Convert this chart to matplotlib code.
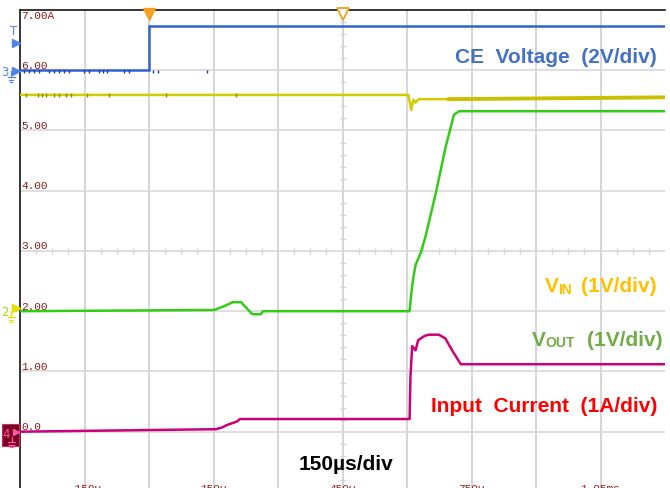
import matplotlib
matplotlib.use("Agg")
import matplotlib.pyplot as plt
from matplotlib.transforms import Affine2D, ScaledTranslation, blended_transform_factory
from matplotlib.lines import Line2D
from matplotlib.patches import Rectangle

# ---------------- data (time in µs, amplitude in screen divisions) ----------------
ce_t = [-300, 0, 0, 1200]
ce_v = [6.0, 6.0, 6.73, 6.73]

vin_t = [-300, 603, 607, 610, 613, 615, 618, 620, 624, 628, 698, 1200]
vin_v = [5.59, 5.59, 5.45, 5.34, 5.45, 5.51, 5.48, 5.46, 5.50, 5.52, 5.52, 5.55]

vout_t = [-300, 151, 170, 186, 195, 214, 240, 260, 265, 606, 610, 615, 620, 632,
          643, 667, 690, 702, 709, 721, 1200]
vout_v = [2.0, 2.02, 2.07, 2.12, 2.15, 2.15, 1.95, 1.95, 2.0, 2.0, 2.30, 2.57, 2.77,
          2.97, 3.24, 3.96, 4.73, 5.06, 5.26, 5.32, 5.32]

iin_t = [-300, 143, 155, 170, 181, 193, 205, 211, 606, 608, 612, 620, 626, 641, 651,
         674, 689, 705, 725, 1200]
iin_v = [0.0, 0.04, 0.04, 0.07, 0.11, 0.14, 0.17, 0.21, 0.21, 0.9, 1.42, 1.35, 1.52,
         1.59, 1.61, 1.61, 1.55, 1.35, 1.12, 1.12]

ce_glitch_t = [-291, -279, -267, -256, -233, -221, -209, -198, -186, -151, -140,
               -116, -107, -98, -58, -47, 10, 20, 134]
vin_glitch_t = [-286, -258, -249, -240, -221, -209, -193, -181, -144, -93, 40, 202]

y_labels = ["7.00A", "6.00", "5.00", "4.00", "3.00", "2.00", "1.00", "0.0"]
y_label_vals = [7, 6, 5, 4, 3, 2, 1, 0]
x_labels = ["-150\u00b5", "150\u00b5", "450\u00b5", "750\u00b5", "1.05ms"]
x_label_vals = [-150, 150, 450, 750, 1050]

# ---------------- figure ----------------
W, H = 670, 488
fig = plt.figure(figsize=(W / 100, H / 100), dpi=100)
fig.patch.set_facecolor("white")
P = Affine2D().scale(1 / W, -1 / H).translate(0, 1) + fig.transFigure

PXDIV = 60.24
ax = fig.add_axes([20 / W, 0, 645 / W, 478 / H])
ax.set_xlim(-300, 1200)
ax.set_ylim(7 - 478 / PXDIV, 7)
ax.set_xticks([])
ax.set_yticks([])
for s in ("bottom", "right"):
    ax.spines[s].set_visible(False)
for s in ("left", "top"):
    ax.spines[s].set_color("black")
    ax.spines[s].set_linewidth(1.1)

grid_c = "#d6d6d6"
for v in range(0, 7):
    ax.axhline(v, color=grid_c, lw=1.1, zorder=0)
for t in range(-150, 1200, 150):
    ax.axvline(t, color=grid_c, lw=1.4, zorder=0)

# center-line minor ticks
hx = [-300 + 37.5 * k for k in range(41) if (k % 4) != 0]
ax.plot(hx, [3] * len(hx), ls="none", marker="|", ms=5, mew=1.0, color=grid_c, zorder=0)
vy = [-1 + 0.2 * k for k in range(41) if (k % 5) != 0]
ax.plot([450] * len(vy), vy, ls="none", marker="_", ms=5, mew=1.0, color=grid_c, zorder=0)

# ---------------- traces ----------------
blue = "#3263d3"
yellow = "#d4cc00"
green = "#33cc14"
magenta = "#cc0078"

ax.plot(ce_t, ce_v, color=blue, lw=1.8, zorder=3, solid_joinstyle="miter")
ax.vlines(ce_glitch_t, [5.955] * len(ce_glitch_t), [6.0] * len(ce_glitch_t),
          color="#1d3c96", lw=1.0, zorder=3)

ax.plot(vin_t, vin_v, color=yellow, lw=1.8, zorder=3)
ax.plot(vin_t[-2:], vin_v[-2:], color="#c8c000", lw=2.8, zorder=3)
ax.vlines(vin_glitch_t, [5.56] * len(vin_glitch_t), [5.63] * len(vin_glitch_t),
          color="#8c8a00", lw=1.0, zorder=3)

ax.plot(vout_t, vout_v, color=green, lw=1.8, zorder=4)
ax.plot(iin_t, iin_v, color=magenta, lw=1.8, zorder=4)

# ---------------- trigger markers on top ----------------
off_down = ScaledTranslation(0, -3.5 / 100, fig.dpi_scale_trans)
ax.plot([0], [7], marker="v", ms=8, color="#f5a020", mec="#f5a020",
        transform=ax.transData + off_down, clip_on=False, zorder=6)
ax.plot([450], [7], marker="v", ms=8, mfc="white", mec="#f5a020", mew=1.3,
        transform=ax.transData + off_down, clip_on=False, zorder=6)

# ---------------- axis labels (scope style) ----------------
lab_c = "#8b1c1c"
mono = "Liberation Mono"
off_lab = ScaledTranslation(1.5 / 100, 1.5 / 100, fig.dpi_scale_trans)
off_top = ScaledTranslation(1.5 / 100, -9.3 / 100, fig.dpi_scale_trans)
for s, v in zip(y_labels, y_label_vals):
    tr = ax.transData + (off_top if v == 7 else off_lab)
    ax.text(-300, v, s, fontsize=8, family=mono, color=lab_c, ha="left",
            va="baseline", transform=tr, zorder=5)

bt = blended_transform_factory(ax.transData, P)
for s, t in zip(x_labels, x_label_vals):
    ax.text(t, 483.5, s, fontsize=8, family=mono, color=lab_c, ha="center",
            va="top", transform=bt, clip_on=False)

# ---------------- channel markers on the left ----------------
def ground(x, y, c):
    fig.add_artist(Line2D([x, x], [y, y + 5], color=c, lw=0.9, transform=P))
    for dy, hw in ((5, 3.5), (7.5, 2.3), (10, 1.1)):
        fig.add_artist(Line2D([x - hw, x + hw], [y + dy, y + dy], color=c, lw=0.9, transform=P))

lb = "#4f86ea"
fig.text(13.5, 35, "T", color=lb, fontsize=8.5, ha="center", va="baseline",
         family="DejaVu Sans", transform=P)
fig.add_artist(Line2D([15.5], [42.5], marker=">", ms=6, color=lb, ls="none", transform=P))
fig.text(5, 76.5, "3", color=lb, fontsize=8.5, ha="center", va="baseline",
         family="DejaVu Sans", transform=P)
fig.add_artist(Line2D([16], [71], marker=">", ms=6, color=lb, ls="none", transform=P))
fig.add_artist(Line2D([11, 16], [71, 71], color=lb, lw=0.9, transform=P))
ground(11, 72, lb)

yl = "#e8e000"
fig.text(5, 316.5, "2", color="#9ee000", fontsize=8.5, ha="center", va="baseline",
         family="DejaVu Sans", transform=P)
fig.add_artist(Line2D([16], [308], marker=">", ms=6, color=yl, ls="none", transform=P))
fig.add_artist(Line2D([11, 16], [311, 311], color=yl, lw=0.9, transform=P))
ground(11, 312, yl)

fig.add_artist(Rectangle((2, 424), 17, 22, facecolor="#7a0022", edgecolor="#cc2a6a",
                         lw=0.8, transform=P))
fig.text(6.5, 438, "4", color="#ff5aa8", fontsize=8.5, ha="center", va="baseline",
         family="DejaVu Sans", transform=P)
fig.add_artist(Line2D([15.5], [432], marker=">", ms=5, color="#ff5aa8", ls="none", transform=P))
ground(11.5, 437, "#ff5aa8")

# ---------------- annotation texts ----------------
sans = "Liberation Sans"

def rlabel(parts, x_right, y_base, color):
    """parts: list of (text, size, gap_px_before_next) from left to right."""
    txt, size, _ = parts[-1]
    last = fig.text(x_right, y_base, txt, fontsize=size, fontweight="bold",
                    family=sans, color=color, ha="right", va="baseline", transform=P)
    for txt, size, gap in reversed(parts[:-1]):
        last = ax.annotate(txt, xy=(0, 0), xycoords=last, xytext=(-gap, 0),
                           textcoords="offset pixels", fontsize=size, fontweight="bold",
                           family=sans, color=color, ha="right", va="bottom",
                           annotation_clip=False)

rlabel([("CE  Voltage  (2V/div)", 15, 0)], 657, 63.0, "#4472c4")
rlabel([("V", 15, 0), ("IN", 10, 9), ("(1V/div)", 15, 0)], 656.5, 292.5, "#ffc000")
rlabel([("V", 15, 0), ("OUT", 10, 12), ("(1V/div)", 15, 0)], 662.5, 346.0, "#70ad47")
rlabel([("Input  Current  (1A/div)", 15, 0)], 657, 412.5, "#ff0000")

fig.text(346, 469.5, "150\u00b5s/div", fontsize=15, fontweight="bold", family=sans,
         color="black", ha="center", va="baseline", transform=P)

fig.savefig("out.png", dpi=100, facecolor="white")
